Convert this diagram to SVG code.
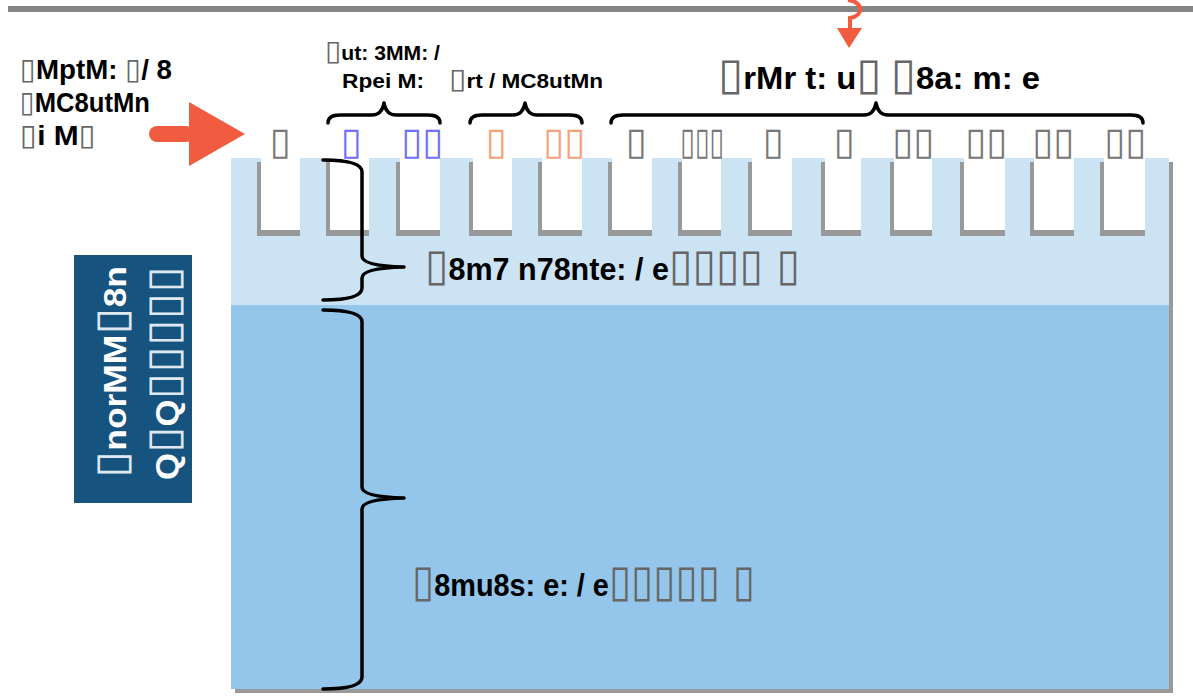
<svg xmlns="http://www.w3.org/2000/svg" width="1193" height="698" viewBox="0 0 1193 698">
<style>
text{font-family:"Liberation Sans",Arial,sans-serif;font-weight:bold;fill:#000}
.tf{font-family:"DejaVu Sans",sans-serif;font-weight:normal;font-size:1.4em;fill:#666}
.side .tf{font-size:1.05em}
.brace{fill:none;stroke:#000;stroke-width:3.5;stroke-linecap:round;stroke-linejoin:round}
.red{fill:#f15b40}
.slotg{fill:#999}
.slotw{fill:#fff}
.lab{font-family:"DejaVu Sans",sans-serif;font-size:38px;font-weight:normal;text-anchor:middle}
.grey{fill:#777}
.blue{fill:#7070f8}
.orng{fill:#f7a07c}
.big{font-size:32px}
.sm{font-size:20px}
.side{font-size:28px}
.vert{font-size:32px;fill:#fff}
.vert .tf{fill:#dfe8f0}
</style>
<rect x="0" y="0" width="1193" height="698" fill="#fff"/>
<rect x="8" y="6" width="1185" height="6" fill="#858585"/>

<g id="block">
<rect x="235" y="162" width="938" height="531" fill="#999"/>
<rect x="231" y="158" width="938" height="147" fill="#cce3f4"/>
<rect x="231" y="305" width="938" height="384" fill="#93c6ea"/>
</g>

<g id="slots">
<rect class="slotg" x="257" y="162" width="43" height="74"/><rect class="slotw" x="261" y="150" width="39" height="80"/>
<rect class="slotg" x="326" y="162" width="43" height="74"/><rect class="slotw" x="330" y="150" width="39" height="80"/>
<rect class="slotg" x="396" y="162" width="44" height="74"/><rect class="slotw" x="400" y="150" width="40" height="80"/>
<rect class="slotg" x="469" y="162" width="43" height="74"/><rect class="slotw" x="473" y="150" width="39" height="80"/>
<rect class="slotg" x="538" y="162" width="44" height="74"/><rect class="slotw" x="542" y="150" width="40" height="80"/>
<rect class="slotg" x="608" y="162" width="44" height="74"/><rect class="slotw" x="612" y="150" width="40" height="80"/>
<rect class="slotg" x="678" y="162" width="43" height="74"/><rect class="slotw" x="682" y="150" width="39" height="80"/>
<rect class="slotg" x="748" y="162" width="44" height="74"/><rect class="slotw" x="752" y="150" width="40" height="80"/>
<rect class="slotg" x="821" y="162" width="40" height="74"/><rect class="slotw" x="825" y="150" width="36" height="80"/>
<rect class="slotg" x="890" y="162" width="42" height="74"/><rect class="slotw" x="894" y="150" width="38" height="80"/>
<rect class="slotg" x="960" y="162" width="45" height="74"/><rect class="slotw" x="964" y="150" width="41" height="80"/>
<rect class="slotg" x="1030" y="162" width="44" height="74"/><rect class="slotw" x="1034" y="150" width="40" height="80"/>
<rect class="slotg" x="1100" y="162" width="45" height="74"/><rect class="slotw" x="1104" y="150" width="41" height="80"/>
</g>

<g id="slot-labels">
<text class="lab grey" x="280" y="154">▯</text>
<text class="lab blue" x="351" y="154">▯</text>
<text class="lab blue" x="422" y="154">▯▯</text>
<text class="lab orng" x="496" y="154">▯</text>
<text class="lab orng" x="564" y="154">▯▯</text>
<text class="lab grey" x="636" y="154">▯</text>
<text class="lab grey" x="702" y="154" textLength="44" lengthAdjust="spacingAndGlyphs">▯▯▯</text>
<text class="lab grey" x="773" y="154">▯</text>
<text class="lab grey" x="844" y="154">▯</text>
<text class="lab grey" x="913" y="154">▯▯</text>
<text class="lab grey" x="986" y="154">▯▯</text>
<text class="lab grey" x="1053" y="154">▯▯</text>
<text class="lab grey" x="1125" y="154">▯▯</text>
</g>

<g id="connectors">
<path class="brace" d="M328 123 Q328 115 340 115 L372 115 Q382 115 384 103 Q386 115 396 115 L428 115 Q440 115 440 123"/>
<path class="brace" d="M470 123 Q470 115 482 115 L513 115 Q523 115 525 103 Q527 115 537 115 L570 115 Q582 115 582 123"/>
<path class="brace" d="M611 123 Q611 115 623 115 L864 115 Q874 115 876 103 Q878 115 888 115 L1131 115 Q1143 115 1143 123"/>
<path class="brace" d="M323 160 Q362 160 362 172 L362 256 Q362 266 404 267 Q362 268 362 278 L362 288 Q362 300 323 300"/>
<path class="brace" d="M323 310 Q362 310 362 322 L362 487 Q362 497 404 498 Q362 499 362 509 L362 677 Q362 689 323 689"/>
<path d="M848 0 C864 2 864 16 850 18 L850 30" fill="none" stroke="#f15b40" stroke-width="4"/>
<polygon class="red" points="837,28 862,28 849,48"/>
<rect class="red" x="149" y="126" width="45" height="16" rx="8"/>
<polygon class="red" points="189,102 245,134 189,166"/>
</g>

<g id="left-label">
<text class="side" x="20" y="79" textLength="152" lengthAdjust="spacingAndGlyphs"><tspan class="tf">▯</tspan>MptM: <tspan class="tf">▯</tspan>/ 8</text>
<text class="side" x="20" y="112" textLength="130" lengthAdjust="spacingAndGlyphs"><tspan class="tf">▯</tspan>MC8utMn</text>
<text class="side" x="20" y="145" textLength="76" lengthAdjust="spacingAndGlyphs"><tspan class="tf">▯</tspan>i M<tspan class="tf">▯</tspan></text>
</g>

<g id="top-labels">
<text class="sm" x="325" y="60" textLength="115" lengthAdjust="spacingAndGlyphs"><tspan class="tf">▯</tspan>ut: 3MM: /</text>
<text class="sm" x="342" y="88" textLength="82" lengthAdjust="spacingAndGlyphs">Rpei M:</text>
<text class="sm" x="449" y="88" textLength="154" lengthAdjust="spacingAndGlyphs"><tspan class="tf">▯</tspan>rt / MC8utMn</text>
<text class="big" x="718" y="89" textLength="322" lengthAdjust="spacingAndGlyphs"><tspan class="tf">▯</tspan>rMr t: u<tspan class="tf">▯</tspan> <tspan class="tf">▯</tspan>8a: m: e</text>
</g>

<g id="band-labels">
<text class="big" x="425" y="280" textLength="375" lengthAdjust="spacingAndGlyphs"><tspan class="tf">▯</tspan>8m7 n78nte: / e<tspan class="tf">▯▯▯▯ ▯</tspan></text>
<text class="big" x="412" y="596" textLength="343" lengthAdjust="spacingAndGlyphs"><tspan class="tf">▯</tspan>8mu8s: e: / e<tspan class="tf">▯▯▯▯▯ ▯</tspan></text>
</g>

<g id="side-box">
<rect x="74" y="255" width="118" height="248" fill="#17537f"/>
<text class="vert" transform="translate(126,478) rotate(-90)" textLength="212" lengthAdjust="spacingAndGlyphs"><tspan class="tf">▯</tspan>norMM<tspan class="tf">▯</tspan>8n</text>
<text class="vert" transform="translate(178,480) rotate(-90)" textLength="214" lengthAdjust="spacingAndGlyphs">Q<tspan class="tf">▯</tspan>Q<tspan class="tf">▯▯▯▯▯</tspan></text>
</g>
</svg>
